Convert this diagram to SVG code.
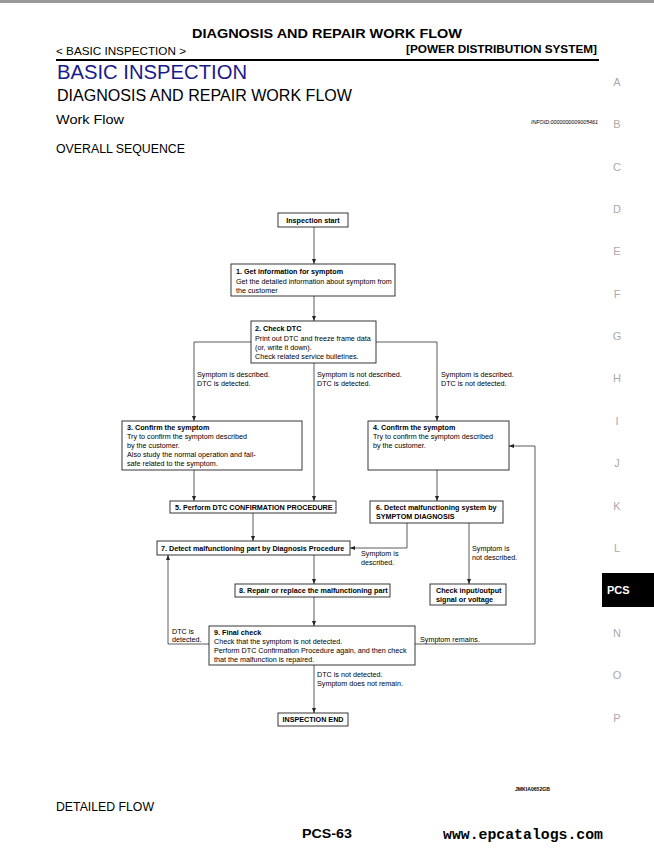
<svg xmlns="http://www.w3.org/2000/svg" width="654" height="850" viewBox="0 0 654 850">
<style>
text{font-family:"Liberation Sans",Arial,sans-serif;fill:#000}
.t{font-size:7.2px}
.b{font-weight:bold}
.box{fill:#fff;stroke:#222;stroke-width:0.9}
.ln{fill:none;stroke:#333;stroke-width:0.8}
.side{font-size:11px;fill:#aaa;text-anchor:middle}
</style>
<defs>
<marker id="ah" markerWidth="6" markerHeight="6" refX="5" refY="3" orient="auto" markerUnits="userSpaceOnUse">
<path d="M0,1 L5,3 L0,5 Z" fill="#222"/>
</marker>
</defs>
<rect width="654" height="850" fill="#fff"/>
<rect x="0" y="0" width="654" height="3" fill="#999"/>

<g id="header">
<text x="327" y="38" font-size="13" font-weight="bold" text-anchor="middle" textLength="270" lengthAdjust="spacingAndGlyphs">DIAGNOSIS AND REPAIR WORK FLOW</text>
<text x="56" y="55" font-size="11" textLength="130" lengthAdjust="spacingAndGlyphs">&lt; BASIC INSPECTION &gt;</text>
<text x="597" y="53" font-size="11" font-weight="bold" text-anchor="end" textLength="191" lengthAdjust="spacingAndGlyphs">[POWER DISTRIBUTION SYSTEM]</text>
<rect x="56" y="59" width="543" height="2" fill="#000"/>
<text x="57" y="79" font-size="20" style="fill:#1a1a8c" textLength="190" lengthAdjust="spacingAndGlyphs">BASIC INSPECTION</text>
<text x="57" y="101" font-size="16" textLength="295" lengthAdjust="spacingAndGlyphs">DIAGNOSIS AND REPAIR WORK FLOW</text>
<text x="56" y="124" font-size="13" textLength="68" lengthAdjust="spacingAndGlyphs">Work Flow</text>
<text x="531" y="124" font-size="5" font-style="italic" textLength="67" lengthAdjust="spacingAndGlyphs">INFOID:0000000009005461</text>
<text x="56" y="153" font-size="12" textLength="129" lengthAdjust="spacingAndGlyphs">OVERALL SEQUENCE</text>
</g>

<g id="side-index">
<text class="side" x="617" y="86">A</text>
<text class="side" x="617" y="128">B</text>
<text class="side" x="617" y="171">C</text>
<text class="side" x="617" y="213">D</text>
<text class="side" x="617" y="255">E</text>
<text class="side" x="617" y="298">F</text>
<text class="side" x="617" y="340">G</text>
<text class="side" x="617" y="382">H</text>
<text class="side" x="617" y="425">I</text>
<text class="side" x="617" y="467">J</text>
<text class="side" x="617" y="510">K</text>
<text class="side" x="617" y="552">L</text>
<rect x="602" y="573" width="52" height="34" fill="#000"/>
<text x="607" y="594" font-size="11" font-weight="bold" style="fill:#fff">PCS</text>
<text class="side" x="617" y="637">N</text>
<text class="side" x="617" y="679">O</text>
<text class="side" x="617" y="722">P</text>
</g>

<g id="connectors">
<line class="ln" x1="314" y1="227" x2="314" y2="264" marker-end="url(#ah)"/>
<line class="ln" x1="314" y1="296" x2="314" y2="321" marker-end="url(#ah)"/>
<polyline class="ln" points="251,342 194,342 194,421" marker-end="url(#ah)"/>
<polyline class="ln" points="376,342 437,342 437,421" marker-end="url(#ah)"/>
<line class="ln" x1="314" y1="363" x2="314" y2="501" marker-end="url(#ah)"/>
<line class="ln" x1="194" y1="470" x2="194" y2="501" marker-end="url(#ah)"/>
<line class="ln" x1="437" y1="470" x2="437" y2="501" marker-end="url(#ah)"/>
<line class="ln" x1="253" y1="513" x2="253" y2="541" marker-end="url(#ah)"/>
<polyline class="ln" points="407,523 407,548 350,548" marker-end="url(#ah)"/>
<line class="ln" x1="469" y1="523" x2="469" y2="584" marker-end="url(#ah)"/>
<line class="ln" x1="314" y1="555" x2="314" y2="584" marker-end="url(#ah)"/>
<line class="ln" x1="314" y1="597" x2="314" y2="626" marker-end="url(#ah)"/>
<polyline class="ln" points="209,644 168,644 168,555" marker-end="url(#ah)"/>
<polyline class="ln" points="415,644 535,644 535,446 509,446" marker-end="url(#ah)"/>
<line class="ln" x1="314" y1="665" x2="314" y2="713" marker-end="url(#ah)"/>
</g>

<g id="connector-labels">
<text class="t" x="197" y="377">Symptom is described.</text>
<text class="t" x="197" y="386">DTC is detected.</text>
<text class="t" x="317" y="377">Symptom is not described.</text>
<text class="t" x="317" y="386">DTC is detected.</text>
<text class="t" x="441" y="377">Symptom is described.</text>
<text class="t" x="441" y="386">DTC is not detected.</text>
<text class="t" x="361" y="556">Symptom is</text>
<text class="t" x="361" y="565">described.</text>
<text class="t" x="472" y="551">Symptom is</text>
<text class="t" x="472" y="560">not described.</text>
<text class="t" x="172" y="633.5">DTC is</text>
<text class="t" x="172" y="642">detected.</text>
<text class="t" x="420" y="642">Symptom remains.</text>
<text class="t" x="317" y="677">DTC is not detected.</text>
<text class="t" x="317" y="686">Symptom does not remain.</text>
</g>

<g id="start">
<rect class="box" x="278" y="213" width="70" height="14"/>
<text class="t b" x="313" y="223" text-anchor="middle">Inspection start</text>
</g>
<g id="step1">
<rect class="box" x="231" y="264" width="164" height="32"/>
<text class="t b" x="236" y="274">1. Get information for symptom</text>
<text class="t" x="236" y="284">Get the detailed information about symptom from</text>
<text class="t" x="236" y="293">the customer</text>
</g>
<g id="step2">
<rect class="box" x="251" y="321" width="125" height="42"/>
<text class="t b" x="255" y="331">2. Check DTC</text>
<text class="t" x="255" y="341">Print out DTC and freeze frame data</text>
<text class="t" x="255" y="350">(or, write it down).</text>
<text class="t" x="255" y="359">Check related service bulletines.</text>
</g>
<g id="step3">
<rect class="box" x="122" y="421" width="180" height="49"/>
<text class="t b" x="127" y="430">3. Confirm the symptom</text>
<text class="t" x="127" y="439">Try to confirm the symptom described</text>
<text class="t" x="127" y="448">by the customer.</text>
<text class="t" x="127" y="457">Also study the normal operation and fail-</text>
<text class="t" x="127" y="466">safe related to the symptom.</text>
</g>
<g id="step4">
<rect class="box" x="368" y="421" width="141" height="49"/>
<text class="t b" x="373" y="430">4. Confirm the symptom</text>
<text class="t" x="373" y="439">Try to confirm the symptom described</text>
<text class="t" x="373" y="448">by the customer.</text>
</g>
<g id="step5">
<rect class="box" x="170" y="501" width="166" height="12"/>
<text class="t b" x="175" y="510">5. Perform DTC CONFIRMATION PROCEDURE</text>
</g>
<g id="step6">
<rect class="box" x="370" y="501" width="133" height="22"/>
<text class="t b" x="376" y="510">6. Detect malfunctioning system by</text>
<text class="t b" x="376" y="519">SYMPTOM DIAGNOSIS</text>
</g>
<g id="step7">
<rect class="box" x="157" y="541" width="193" height="14"/>
<text class="t b" x="161" y="551">7. Detect malfunctioning part by Diagnosis Procedure</text>
</g>
<g id="check-io">
<rect class="box" x="430" y="584" width="76" height="21"/>
<text class="t b" x="436" y="593">Check input/output</text>
<text class="t b" x="436" y="602">signal or voltage</text>
</g>
<g id="step8">
<rect class="box" x="235" y="584" width="155" height="13"/>
<text class="t b" x="239" y="593">8. Repair or replace the malfunctioning part</text>
</g>
<g id="step9">
<rect class="box" x="209" y="626" width="206" height="39"/>
<text class="t b" x="214" y="635">9. Final check</text>
<text class="t" x="214" y="644">Check that the symptom is not detected.</text>
<text class="t" x="214" y="653">Perform DTC Confirmation Procedure again, and then check</text>
<text class="t" x="214" y="662">that the malfunction is repaired.</text>
</g>
<g id="end">
<rect class="box" x="278" y="713" width="70" height="13"/>
<text class="t b" x="313" y="722" text-anchor="middle">INSPECTION END</text>
</g>

<g id="footer">
<text x="515" y="791" font-size="5" font-weight="bold" textLength="35" lengthAdjust="spacingAndGlyphs">JMKIA0652GB</text>
<text x="56" y="811" font-size="12" textLength="98" lengthAdjust="spacingAndGlyphs">DETAILED FLOW</text>
<text x="302" y="838" font-size="13" font-weight="bold" textLength="50" lengthAdjust="spacingAndGlyphs">PCS-63</text>
<text x="443" y="839" font-size="14" font-weight="bold" style="font-family:'Liberation Mono','Courier New',monospace" textLength="160" lengthAdjust="spacingAndGlyphs">www.epcatalogs.com</text>
</g>
</svg>
